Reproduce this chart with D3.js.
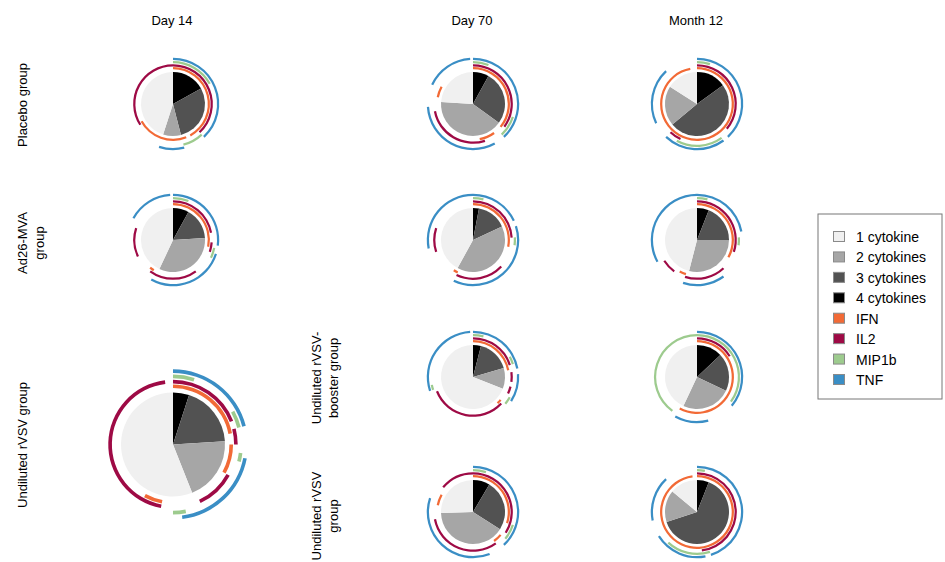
<!DOCTYPE html>
<html lang="en">
<head>
<meta charset="UTF-8">
<title>SPICE pies</title>
<script src="https://cdn.jsdelivr.net/npm/d3@7/dist/d3.min.js"></script>
<style>
  body { margin: 0; background: #fff; }
  text { font-family: Arial, "Liberation Sans", sans-serif; fill: #000; }
</style>
</head>
<body>
<div class="spice"></div>
<script>
    const timepoints = ['Day 14', 'Day 70', 'Month 12']
    const groups = ['Placebo group', 'Ad26-MVA group', 'Undiluted rVSV-booster group', 'Undiluted rVSV group']
    const categories = ['4 cytokines', '3 cytokines', '2 cytokines', '1 cytokine']
    const cytokines = ['IFN', 'IL2', 'MIP1b', 'TNF']

    // one entry per pie
    const panelGroup = [0, 0, 0, 1, 1, 1, 3, 2, 2, 3, 3]
    const panelTime = [0, 1, 2, 0, 1, 2, 0, 1, 2, 1, 2]
    const panelSize = [1, 1, 1, 1, 1, 1, 2.64, 1, 1, 1, 1]

    // fractions for 4, 3, 2, 1 cytokines
    const sliceValues = [
        [0.17, 0.29, 0.09, 0.45],
        [0.08, 0.27, 0.41, 0.24],
        [0.15, 0.49, 0.20, 0.16],
        [0.08, 0.16, 0.33, 0.43],
        [0.03, 0.15, 0.40, 0.42],
        [0.06, 0.19, 0.29, 0.46],
        [0.05, 0.19, 0.20, 0.56],
        [0.04, 0.165, 0.105, 0.69],
        [0.13, 0.19, 0.25, 0.43],
        [0.085, 0.255, 0.405, 0.255],
        [0.06, 0.64, 0.16, 0.14]
    ]

    // arc spans (fraction of the circle) for each cytokine
    const ifnArcs = [
        [[0, 0.42], [0.44, 0.67]],
        [[0, 0.36], [0.40, 0.47], [0.78, 0.83]],
        [[0, 0.97]],
        [[0, 0.28], [0.59, 0.61]],
        [[0, 0.28], [0.57, 0.59]],
        [[0, 0.33], [0.55, 0.58]],
        [[0, 0.22], [0.25, 0.33], [0.53, 0.58]],
        [[0, 0.22], [0.36, 0.38]],
        [[0, 0.58]],
        [[0, 0.30], [0.36, 0.40], [0.78, 0.83]],
        [[0, 0.98]]
    ]
    const il2Arcs = [
        [[0, 0.38], [0.66, 1]],
        [[0, 0.35], [0.45, 0.72]],
        [[0, 0.36], [0.57, 0.62]],
        [[0, 0.22], [0.26, 0.30], [0.40, 0.60], [0.68, 0.80]],
        [[0, 0.24], [0.37, 0.57], [0.70, 0.80]],
        [[0, 0.30], [0.38, 0.55], [0.60, 0.66]],
        [[0, 0.19], [0.21, 0.25], [0.33, 0.43], [0.53, 0.98]],
        [[0, 0.20], [0.23, 0.27], [0.29, 0.32], [0.37, 0.69]],
        [[0, 0.16]],
        [[0, 0.34], [0.40, 0.72], [0.86, 1]],
        [[0, 0.48]]
    ]
    const mipArcs = [
        [[0, 0.17], [0.38, 0.46]],
        [[0, 0.06], [0.30, 0.38]],
        [[0, 0.05], [0.40, 0.58]],
        [[0, 0.06], [0.28, 0.32]],
        [[0, 0.04], [0.24, 0.27]],
        [[0, 0.04], [0.24, 0.27]],
        [[0, 0.05], [0.17, 0.21], [0.27, 0.29], [0.47, 0.50]],
        [[0, 0.04], [0.17, 0.20], [0.33, 0.36], [0.70, 0.72]],
        [[0, 0.35], [0.60, 1]],
        [[0, 0.05], [0.30, 0.36]],
        [[0, 0.03], [0.45, 0.62]]
    ]
    const tnfArcs = [
        [[0, 0.38], [0.46, 0.55]],
        [[0, 0.38], [0.42, 0.74], [0.82, 0.99]],
        [[0, 0.38], [0.40, 0.62], [0.68, 0.88]],
        [[0, 0.27], [0.30, 0.58], [0.83, 0.99]],
        [[0, 0.18], [0.20, 0.57], [0.72, 1]],
        [[0, 0.22], [0.40, 0.55], [0.67, 1]],
        [[0, 0.21], [0.28, 0.48]],
        [[0, 0.22], [0.24, 0.34], [0.70, 0.99]],
        [[0, 0.36], [0.46, 0.58]],
        [[0, 0.38], [0.44, 0.80]],
        [[0, 0.45], [0.47, 0.66], [0.72, 0.88]]
    ]
    const cytokineArcs = [ifnArcs, il2Arcs, mipArcs, tnfArcs]

    // row labels: text lines and where they sit
    const rowLabelLines = [['Placebo group'], ['Ad26-MVA', 'group'], ['Undiluted rVSV group'],
        ['Undiluted rVSV-', 'booster group'], ['Undiluted rVSV', 'group']]
    const rowLabelPos = [[27, 105], [27, 243], [27, 445], [321, 378], [321, 516]]

    const width = 945
    const height = 562
    const sliceColors = ['#000000', '#525252', '#a6a6a6', '#f0f0f0']
    const arcColors = ['#f26a36', '#9e0a45', '#9dcb8e', '#3a8ec5']
    const ringOffset = [0.12, 0.21, 0.31, 0.41]   // ring radius = r * (1 + offset)
    const ringWidth = 0.07

    const xScale = d3.scaleOrdinal().domain(timepoints).range([173, 473, 697])
    const yScale = d3.scaleOrdinal().domain(groups).range([104, 240, 377, 512])
    const rScale = d3.scaleSqrt().domain([0, 1]).range([0, 32])
    const angle = d3.scaleLinear().domain([0, 1]).range([0, 2 * Math.PI])

    const svg = d3.select('.spice')
        .append('svg')
        .attr('width', width)
        .attr('height', height)

    const pie = d3.pie().sort(null).value(d => d)

    function panelY(i) {
        // Day 14 has no booster group, so the rVSV pie spans both rows
        if (panelTime[i] === 0 && panelGroup[i] === 3) {
            return (yScale(groups[2]) + yScale(groups[3])) / 2
        }
        return yScale(groups[panelGroup[i]])
    }

    sliceValues.forEach((vals, i) => {
        const r = rScale(panelSize[i])
        const g = svg.append('g')
            .attr('class', 'pie')
            .attr('transform', `translate(${xScale(timepoints[panelTime[i]])}, ${panelY(i)})`)

        const arc = d3.arc().innerRadius(0).outerRadius(r)
        g.selectAll('path.slice')
            .data(pie(vals))
            .enter()
            .append('path')
            .attr('class', 'slice')
            .attr('fill', (d, k) => sliceColors[k])
            .attr('d', arc)

        cytokineArcs.forEach((list, c) => {
            const mid = r * (1 + ringOffset[c])
            const ring = d3.arc()
                .innerRadius(mid - r * ringWidth / 2)
                .outerRadius(mid + r * ringWidth / 2)
                .startAngle(d => angle(d[0]))
                .endAngle(d => angle(d[1]))
            g.selectAll('path.c' + c)
                .data(list[i])
                .enter()
                .append('path')
                .attr('class', 'c' + c)
                .attr('fill', arcColors[c])
                .attr('d', ring)
        })
    })

    // column titles
    svg.selectAll('.col-title')
        .data(timepoints)
        .enter()
        .append('text')
        .attr('class', 'col-title')
        .attr('x', d => xScale(d) - 1)
        .attr('y', 25)
        .attr('text-anchor', 'middle')
        .attr('font-size', '13px')
        .text(d => d)

    // row labels (rotated)
    svg.selectAll('.row-label')
        .data(rowLabelLines)
        .enter()
        .append('text')
        .attr('class', 'row-label')
        .attr('text-anchor', 'middle')
        .attr('font-size', '13px')
        .attr('transform', (d, i) => `translate(${rowLabelPos[i][0]}, ${rowLabelPos[i][1]}) rotate(-90)`)
        .selectAll('tspan')
        .data(d => d)
        .enter()
        .append('tspan')
        .attr('x', 0)
        .attr('dy', (d, k) => k === 0 ? 0 : 17)
        .text(d => d)

    // legend
    const legendItems = categories.slice().reverse().concat(cytokines)
    const legendColors = sliceColors.slice().reverse().concat(arcColors)
    const legend = svg.append('g').attr('transform', 'translate(818, 214)')
    legend.append('rect')
        .attr('width', 124)
        .attr('height', 185)
        .attr('fill', '#fff')
        .attr('stroke', '#777')
        .attr('stroke-width', 1)
    const ly = d3.scalePoint().domain(legendItems).range([23, 166])
    const items = legend.selectAll('.item')
        .data(legendItems)
        .enter()
        .append('g')
        .attr('class', 'item')
        .attr('transform', d => `translate(0, ${ly(d)})`)
    items.append('rect')
        .attr('x', 15.5)
        .attr('y', -5.5)
        .attr('width', 11)
        .attr('height', 10)
        .attr('fill', (d, i) => legendColors[i])
        .attr('stroke', '#8a8a8a')
        .attr('stroke-width', 1)
    items.append('text')
        .attr('x', 38)
        .attr('y', 5)
        .attr('font-size', '14px')
        .text(d => d)
</script>
</body>
</html>
